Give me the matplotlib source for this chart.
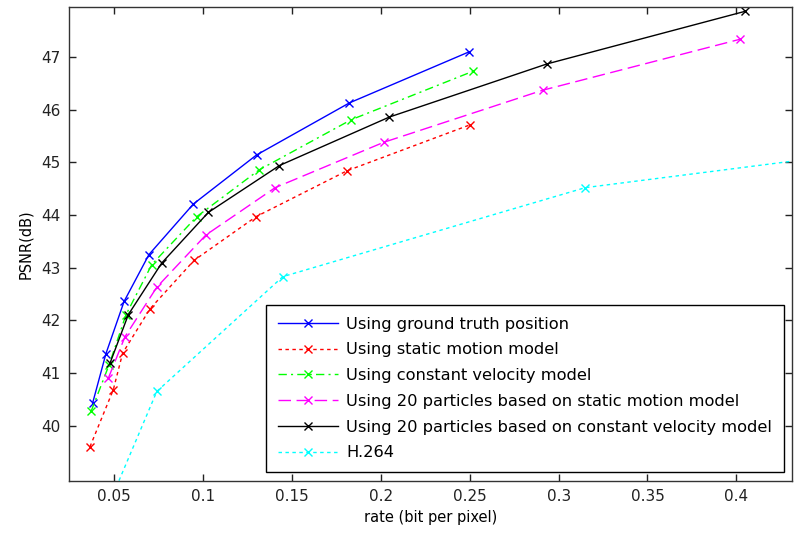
import numpy as np
import matplotlib
matplotlib.use("Agg")
import matplotlib.pyplot as plt

# rate (bit per pixel) / PSNR (dB)
gt_rate = [0.0378, 0.0453, 0.0555, 0.0695, 0.0945, 0.1300, 0.1823, 0.2497]
gt_psnr = [40.43, 41.37, 42.36, 43.25, 44.21, 45.14, 46.13, 47.10]

static_rate = [0.0363, 0.0494, 0.0547, 0.0701, 0.0949, 0.1298, 0.1809, 0.2499]
static_psnr = [39.60, 40.68, 41.38, 42.22, 43.14, 43.97, 44.84, 45.71]

cv_rate = [0.0369, 0.0470, 0.0566, 0.0711, 0.0964, 0.1316, 0.1833, 0.2518]
cv_psnr = [40.27, 41.15, 42.11, 43.06, 43.97, 44.86, 45.81, 46.73]

pf_static_rate = [0.0466, 0.0560, 0.0739, 0.1015, 0.1405, 0.2015, 0.2910, 0.4023]
pf_static_psnr = [40.90, 41.69, 42.63, 43.62, 44.52, 45.38, 46.37, 47.34]

pf_cv_rate = [0.0476, 0.0579, 0.0767, 0.1029, 0.1429, 0.2047, 0.2935, 0.4051]
pf_cv_psnr = [41.19, 42.11, 43.09, 44.05, 44.94, 45.86, 46.87, 47.87]

h264_rate = [0.0450, 0.0739, 0.1448, 0.3150, 0.4400]
h264_psnr = [38.35, 40.65, 42.83, 44.52, 45.06]

labels = [
    "Using ground truth position",
    "Using static motion model",
    "Using constant velocity model",
    "Using 20 particles based on static motion model",
    "Using 20 particles based on constant velocity model",
    "H.264",
]

plt.rcParams['font.family'] = ['DejaVu Sans']
fig = plt.figure(figsize=(7.95, 5.4), dpi=100)
ax = fig.add_axes([0.0868, 0.1093, 0.9094, 0.8777])

series = [
    (gt_rate, gt_psnr, "#0000ff", "-"),
    (static_rate, static_psnr, "#ff0000", (0, (2.5, 2.5))),
    (cv_rate, cv_psnr, "#00ff00", (0, (6, 3, 1.5, 3))),
    (pf_static_rate, pf_static_psnr, "#ff00ff", (0, (9, 4))),
    (pf_cv_rate, pf_cv_psnr, "#000000", "-"),
    (h264_rate, h264_psnr, "#00ffff", (0, (2.5, 2.5))),
]
for (r, p, c, ls), lab in zip(series, labels):
    ax.plot(r, p, color=c, linestyle=ls, linewidth=1.0, marker="x",
            markersize=6, markeredgewidth=1.0, label=lab)

ax.set_xlim(0.0245, 0.4313)
ax.set_ylim(38.95, 47.95)
ax.set_xticks([0.05, 0.1, 0.15, 0.2, 0.25, 0.3, 0.35, 0.4])
ax.set_xticklabels(["0.05", "0.1", "0.15", "0.2", "0.25", "0.3", "0.35", "0.4"])
ax.set_yticks([40, 41, 42, 43, 44, 45, 46, 47])
ax.tick_params(direction="in", top=True, right=True, length=5, width=1,
               labelsize=11, colors="#222222", pad=6)
for s in ax.spines.values():
    s.set_color("#333333")
    s.set_linewidth(1.0)

ax.set_xlabel("rate (bit per pixel)", fontsize=10.5, labelpad=4)
ax.set_ylabel("PSNR(dB)", fontsize=10.5, labelpad=6)

leg = ax.legend(loc="upper left", bbox_to_anchor=(266 / 795, 1 - 305 / 540),
                bbox_transform=fig.transFigure, fontsize=11.7, handlelength=3.7,
                fancybox=False, framealpha=1, edgecolor="black",
                borderaxespad=0, labelspacing=0.66, borderpad=0.72,
                handletextpad=0.5)
leg.get_frame().set_linewidth(1.0)

fig.savefig("out.png", dpi=100)
